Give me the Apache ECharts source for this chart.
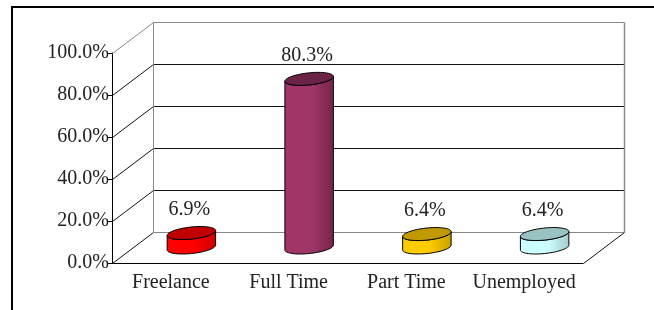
<!DOCTYPE html>
<html>
<head>
<meta charset="utf-8">
<script src="https://cdn.jsdelivr.net/npm/echarts@6/dist/echarts.min.js"></script>
<style>
  html, body { margin: 0; padding: 0; background: #fff; }
  #chart { width: 654px; height: 310px; }
</style>
</head>
<body>
<div id="chart"></div>
<script>
// data
var categories = ['Freelance', 'Full Time', 'Part Time', 'Unemployed'];
var shares = [6.9, 80.3, 6.4, 6.4];
var yTicks = [0, 20, 40, 60, 80, 100];

// colours per cylinder: side (light -> dark) and top
var sideLight = ['#ff0000', '#a03668', '#ffcc00', '#ccffff'];
var sideDark = ['#cc0000', '#762449', '#c9a000', '#a4cccc'];
var topColor = ['#c00000', '#6b2346', '#c09a00', '#99c2c2'];

var FONT = '"Liberation Serif", "DejaVu Serif", serif';
var DX = 41, DY = -31;        // depth of the 3d box, px
var R = 22.5;                 // cylinder radius along x
var EDX = 9, EDY = -6.5;      // cylinder radius along depth

function ellipsePts(cx, cy, t0, t1, n) {
    var pts = [];
    for (var i = 0; i <= n; i++) {
        var t = t0 + (t1 - t0) * i / n;
        pts.push([cx + R * Math.cos(t) + EDX * Math.sin(t), cy + EDY * Math.sin(t)]);
    }
    return pts;
}

var chart = echarts.init(document.getElementById('chart'));

chart.setOption({
    animation: false,
    graphic: [{
        type: 'rect',
        shape: { x: 12, y: 7, width: 700, height: 400 },
        style: { fill: 'none', stroke: '#000', lineWidth: 2 }
    }],
    grid: { left: 112, top: 53, right: 71, bottom: 47 },
    xAxis: {
        type: 'category',
        data: categories,
        axisLine: { lineStyle: { color: '#000', width: 1 } },
        axisTick: { inside: true, length: 4, lineStyle: { color: '#000' } },
        axisLabel: { interval: 0, margin: 10, color: '#222', fontFamily: FONT, fontSize: 20 }
    },
    yAxis: {
        type: 'value',
        min: 0,
        max: 100,
        interval: 20,
        axisLine: { show: true, lineStyle: { color: '#000', width: 1 } },
        axisTick: { show: true, length: 4, lineStyle: { color: '#000' } },
        splitLine: { show: false },
        axisLabel: {
            margin: 3,
            color: '#222',
            fontFamily: FONT,
            fontSize: 20,
            padding: [12, 0, 0, 0],
            formatter: function (v) { return v.toFixed(1) + '%'; }
        }
    },
    series: [{
        // walls + gridlines of the 3d box
        type: 'custom',
        z: 1,
        silent: true,
        data: yTicks.map(function (v) { return [0, v]; }),
        renderItem: function (params, api) {
            var cs = params.coordSys;
            var v = api.value(1);
            var y = Math.round(api.coord([0, v])[1]) + 0.5;
            var x0 = cs.x + 0.5, x1 = cs.x + cs.width + 0.5;
            var edge = (v === 0 || v === 100);
            var col = edge ? '#888' : '#111';
            var kids = [
                { type: 'line', shape: { x1: x0, y1: y, x2: x0 + DX, y2: y + DY },
                  style: { stroke: v === 0 ? '#111' : col, lineWidth: 1 } },
                { type: 'line', shape: { x1: x0 + DX, y1: y + DY, x2: x1 + DX, y2: y + DY },
                  style: { stroke: col, lineWidth: 1 } }
            ];
            if (v === 0) {
                kids.push({ type: 'line', shape: { x1: x1, y1: y, x2: x1 + DX, y2: y + DY },
                    style: { stroke: '#111', lineWidth: 1 } });
            }
            if (v === 100) {
                var yb = Math.round(api.coord([0, 0])[1]) + 0.5;
                kids.push({ type: 'line', shape: { x1: x0 + DX, y1: y + DY, x2: x0 + DX, y2: yb + DY },
                    style: { stroke: '#888', lineWidth: 1 } });
                kids.push({ type: 'line', shape: { x1: x1 + DX, y1: y + DY, x2: x1 + DX, y2: yb + DY },
                    style: { stroke: '#888', lineWidth: 1.5 } });
            }
            return { type: 'group', children: kids };
        }
    }, {
        // cylinders
        type: 'custom',
        z: 3,
        data: shares.map(function (v, i) { return [i, v]; }),
        renderItem: function (params, api) {
            var i = api.value(0), v = api.value(1);
            var top = api.coord([i, v]);
            var base = api.coord([i, 0]);
            var cx = top[0] + DX / 2;
            var ty = top[1] + DY / 2;
            var by = base[1] + DY / 2;
            var t0 = Math.atan2(EDX, R);
            // front half of side: bottom ellipse then top ellipse back
            var side = ellipsePts(cx, by, t0 + Math.PI, t0 + 2 * Math.PI, 30)
                .concat(ellipsePts(cx, ty, t0 + 2 * Math.PI, t0 + Math.PI, 30));
            var cap = ellipsePts(cx, ty, 0, 2 * Math.PI, 60);
            var grad = new echarts.graphic.LinearGradient(0, 0, 1, 0, [
                { offset: 0, color: sideLight[i] },
                { offset: 0.55, color: sideLight[i] },
                { offset: 1, color: sideDark[i] }
            ]);
            return {
                type: 'group',
                children: [
                    { type: 'polygon', shape: { points: side },
                      style: { fill: grad, stroke: '#000', lineWidth: 1 } },
                    { type: 'polygon', shape: { points: cap },
                      style: { fill: topColor[i], stroke: '#000', lineWidth: 1 } },
                    { type: 'text',
                      style: { text: v.toFixed(1) + '%', x: cx - 2, y: ty - 23,
                               align: 'center', verticalAlign: 'middle',
                               fill: '#222', font: '20px ' + FONT } }
                ]
            };
        }
    }]
});
</script>
</body>
</html>
